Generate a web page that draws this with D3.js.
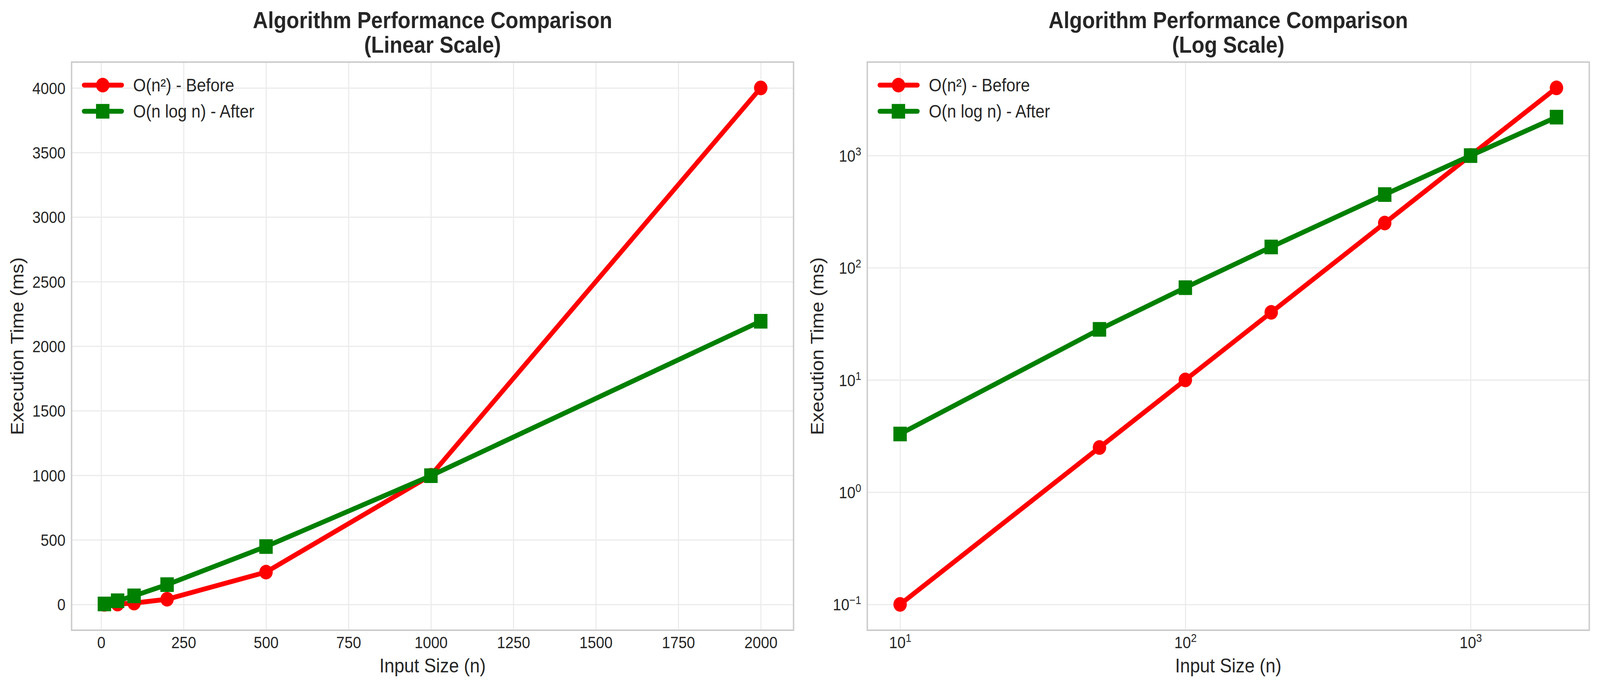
<!DOCTYPE html>
<html>
<head>
<meta charset="utf-8">
<script src="https://cdn.jsdelivr.net/npm/d3@7"></script>
<style>
  html, body { margin: 0; padding: 0; background: #fff; overflow: hidden; }
  svg { display: block; width: 100vw; height: 100vh; font-family: "Liberation Sans", Arial, sans-serif; }
</style>
</head>
<body>
<svg id="chart"></svg>
<script>
// data
const inputSizes = [10, 50, 100, 200, 500, 1000, 2000]
const beforeTimes = [0.1, 2.5, 10, 40, 250, 1000, 4000]
const afterTimes = [3.3, 28.2, 66.4, 152.9, 448.3, 996.6, 2193.2]
const seriesNames = ["O(n²) - Before", "O(n log n) - After"]
const seriesColors = ["#ff0000", "#008000"]

const linearXTicks = [0, 250, 500, 750, 1000, 1250, 1500, 1750, 2000]
const linearYTicks = [0, 500, 1000, 1500, 2000, 2500, 3000, 3500, 4000]
const logXTicks = [10, 100, 1000]
const logYTicks = [0.1, 1, 10, 100, 1000]
const logExponents = { 0.1: "−1", 1: "0", 10: "1", 100: "2", 1000: "3" }

const titleLines = ["Algorithm Performance Comparison"]
const panelSubtitles = ["(Linear Scale)", "(Log Scale)"]
const xLabel = "Input Size (n)"
const yLabel = "Execution Time (ms)"

const width = 4470
const height = 1762
const textColor = "#262626"
const tickFont = 41.7

// stretch the drawing to the window so it always fills it
const svg = d3.select("#chart")
	.attr("viewBox", `0 0 ${width} ${height}`)
	.attr("preserveAspectRatio", "none")
svg.append("rect").attr("width", width).attr("height", height).attr("fill", "#fff")

const series = [beforeTimes, afterTimes].map((vals, i) => ({
	name: seriesNames[i],
	color: seriesColors[i],
	symbol: i === 0 ? d3.symbolCircle : d3.symbolSquare,
	size: i === 0 ? 1104 : 1406,
	points: inputSizes.map((n, j) => ({ n, t: vals[j] })),
}))

const panels = [
	{
		left: 200, right: 2217, top: 159, bottom: 1614,
		x: d3.scaleLinear().domain([-89.5, 2099.5]),
		y: d3.scaleLinear().domain([-199.9, 4200]),
		xTicks: linearXTicks, yTicks: linearYTicks,
		log: false, subtitle: panelSubtitles[0], yLabelX: 65,
	},
	{
		left: 2423, right: 4440, top: 159, bottom: 1614,
		x: d3.scaleLog().domain([Math.pow(10, 0.885), Math.pow(10, 3.416)]),
		y: d3.scaleLog().domain([Math.pow(10, -1.23), Math.pow(10, 3.832)]),
		xTicks: logXTicks, yTicks: logYTicks,
		log: true, subtitle: panelSubtitles[1], yLabelX: 2300,
	},
]

// superscript labels for the log axes
function powerLabel(sel) {
	sel.each(function (d) {
		const t = d3.select(this)
		t.text("10")
		t.append("tspan")
			.attr("dy", -16)
			.attr("font-size", 29)
			.text(logExponents[d])
	})
}

panels.forEach((p) => {
	p.x.range([p.left, p.right])
	p.y.range([p.bottom, p.top])
	const cx = (p.left + p.right) / 2
	const cy = (p.top + p.bottom) / 2
	const g = svg.append("g")

	// x axis + vertical grid
	const gx = g.append("g")
		.attr("transform", `translate(0, ${p.bottom})`)
		.call(
			d3.axisBottom(p.x)
				.tickValues(p.xTicks)
				.tickSizeInner(-(p.bottom - p.top))
				.tickSizeOuter(0)
				.tickPadding(16)
				.tickFormat(d3.format("d"))
		)
	gx.select(".domain").remove()
	gx.selectAll("line").attr("stroke", "#ebebeb").attr("stroke-width", 3)
	gx.selectAll("text")
		.attr("font-size", tickFont)
		.attr("fill", textColor)
		.attr("font-family", "Liberation Sans, Arial, sans-serif")
		.attr("dy", 30)
	if (p.log) gx.selectAll("text").call(powerLabel)

	// y axis + horizontal grid
	const gy = g.append("g")
		.attr("transform", `translate(${p.left}, 0)`)
		.call(
			d3.axisLeft(p.y)
				.tickValues(p.yTicks)
				.tickSizeInner(-(p.right - p.left))
				.tickSizeOuter(0)
				.tickPadding(17)
				.tickFormat(d3.format("d"))
		)
	gy.select(".domain").remove()
	gy.selectAll("line").attr("stroke", "#ebebeb").attr("stroke-width", 3)
	gy.selectAll("text")
		.attr("font-size", tickFont)
		.attr("fill", textColor)
		.attr("font-family", "Liberation Sans, Arial, sans-serif")
		.attr("dy", 15)
	if (p.log) gy.selectAll("text").call(powerLabel)

	// lines + markers
	const line = d3.line().x((d) => p.x(d.n)).y((d) => p.y(d.t))
	series.forEach((s) => {
		g.append("path")
			.datum(s.points)
			.attr("d", line)
			.attr("fill", "none")
			.attr("stroke", s.color)
			.attr("stroke-width", 12.5)
			.attr("stroke-linejoin", "round")
		g.selectAll(null)
			.data(s.points)
			.join("path")
			.attr("transform", (d) => `translate(${p.x(d.n)}, ${p.y(d.t)})`)
			.attr("d", d3.symbol(s.symbol, s.size))
			.attr("fill", s.color)
	})

	// frame
	g.append("rect")
		.attr("x", p.left)
		.attr("y", p.top)
		.attr("width", p.right - p.left)
		.attr("height", p.bottom - p.top)
		.attr("fill", "none")
		.attr("stroke", "#cccccc")
		.attr("stroke-width", 4)

	// legend
	series.forEach((s, i) => {
		const ly = p.top + 59 + i * 67
		g.append("line")
			.attr("x1", p.left + 35).attr("x2", p.left + 140)
			.attr("y1", ly).attr("y2", ly)
			.attr("stroke", s.color)
			.attr("stroke-width", 12.5)
			.attr("stroke-linecap", "round")
		g.append("path")
			.attr("transform", `translate(${p.left + 87}, ${ly})`)
			.attr("d", d3.symbol(s.symbol, s.size))
			.attr("fill", s.color)
		g.append("text")
			.attr("x", p.left + 172)
			.attr("y", ly + 16)
			.attr("font-size", 45.8)
			.attr("fill", textColor)
			.text(s.name)
	})

	// titles and labels
	g.append("text")
		.attr("x", cx).attr("y", 72)
		.attr("text-anchor", "middle")
		.attr("font-size", 58.3)
		.attr("font-weight", "bold")
		.attr("fill", textColor)
		.text(titleLines[0])
	g.append("text")
		.attr("x", cx).attr("y", 135)
		.attr("text-anchor", "middle")
		.attr("font-size", 58.3)
		.attr("font-weight", "bold")
		.attr("fill", textColor)
		.text(p.subtitle)
	g.append("text")
		.attr("x", cx).attr("y", 1722)
		.attr("text-anchor", "middle")
		.attr("font-size", 50)
		.attr("fill", textColor)
		.text(xLabel)
	g.append("text")
		.attr("transform", `translate(${p.yLabelX}, ${cy}) rotate(-90)`)
		.attr("text-anchor", "middle")
		.attr("font-size", 50)
		.attr("fill", textColor)
		.text(yLabel)
})
</script>
</body>
</html>
